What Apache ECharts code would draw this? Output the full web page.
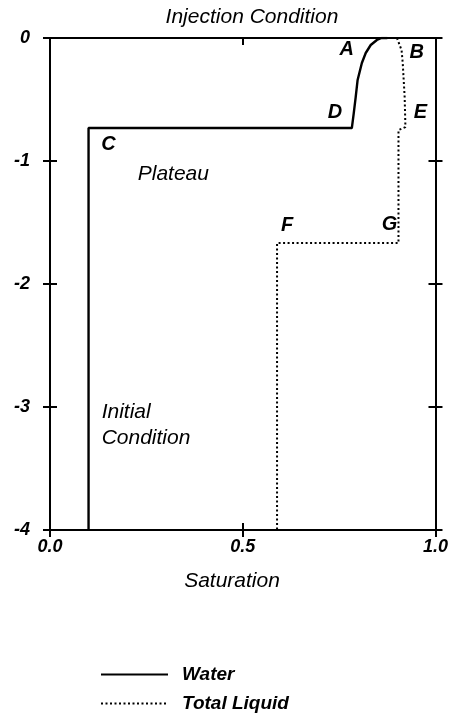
<!DOCTYPE html>
<html>
<head>
<meta charset="utf-8">
<script src="https://cdn.jsdelivr.net/npm/echarts@6/dist/echarts.min.js"></script>
<style>
html,body{margin:0;padding:0;background:#fff;}
#c{width:451px;height:715px;}
</style>
</head>
<body>
<div id="c"></div>
<script>
// ---- data ----
var waterSat   = [0.10, 0.10, 0.783, 0.788, 0.793, 0.798, 0.809, 0.819, 0.832, 0.848, 0.860, 0.875];
var waterDepth = [-4.0, -0.732, -0.732, -0.61, -0.48, -0.341, -0.203, -0.122, -0.057, -0.016, 0.0, 0.0];
var liquidSat   = [0.900, 0.912, 0.915, 0.920, 0.922, 0.904, 0.904, 0.589, 0.589];
var liquidDepth = [0.0, -0.098, -0.203, -0.48, -0.724, -0.748, -1.667, -1.667, -4.0];
var xTicks = [0.0, 0.5, 1.0];
var yTicks = [0, -1, -2, -3, -4];
var noteText = ['A', 'B', 'D', 'E', 'C', 'F', 'G', 'Plateau', 'Initial\nCondition'];
var noteSat  = [0.770, 0.951, 0.739, 0.961, 0.152, 0.615, 0.881, 0.320, 0.134];
var noteDepth = [-0.093, -0.114, -0.602, -0.602, -0.866, -1.528, -1.520, -1.106, -3.146];
var seriesNames = ['Water', 'Total Liquid'];

function pairs(xs, ys){ return xs.map(function(x,i){ return [x, ys[i]]; }); }

var FONT = '"Liberation Sans", Arial, sans-serif';
var INK = '#000';

var chart = echarts.init(document.getElementById('c'), null, {renderer:'canvas'});

function xAx(pos, inside, labels){
  return {
    type:'value', position:pos, min:xTicks[0], max:xTicks[xTicks.length-1], interval:0.5,
    axisLine:{show:true, onZero:false, lineStyle:{color:INK, width:2}},
    axisTick:{show: pos==='bottom' || inside, inside:inside, length:7, lineStyle:{color:INK, width:2},
      customValues: pos==='top' ? [0.5] : xTicks},
    axisLabel:{show:labels, margin:8, color:INK, fontFamily:FONT, fontSize:18, fontStyle:'italic', fontWeight:'bold',
      formatter:function(v){ return v.toFixed(1); }},
    splitLine:{show:false}
  };
}
function yAx(pos, inside, labels){
  return {
    type:'value', position:pos, min:yTicks[yTicks.length-1], max:yTicks[0], interval:1,
    axisLine:{show:true, onZero:false, lineStyle:{color:INK, width:2}},
    axisTick:{show:true, inside:inside, length:7, lineStyle:{color:INK, width:2}},
    axisLabel:{show:labels, margin:20, color:INK, fontFamily:FONT, fontSize:18, fontStyle:'italic', fontWeight:'bold',
      formatter:function(v){ return String(v); }},
    splitLine:{show:false}
  };
}

var notes = noteText.map(function(t,i){
  var item = {value:[noteSat[i], noteDepth[i]], name:t};
  if (t.length > 1) item.label = {fontWeight:'normal', fontSize:21};
  if (t.indexOf('\n') >= 0) item.label = {align:'left', fontWeight:'normal', fontSize:21};
  return item;
});

chart.setOption({
  animation:false,
  backgroundColor:'#fff',
  grid:{left:50, right:14, top:38, bottom:185, containLabel:false},
  xAxis:[xAx('bottom', false, true), xAx('bottom', true, false), xAx('top', true, false)],
  yAxis:[yAx('left', false, true), yAx('left', true, false), yAx('right', false, false), yAx('right', true, false)],
  legend:{
    data:seriesNames, orient:'vertical', left:100, top:665, height:60, padding:0,
    itemWidth:67, itemHeight:14, itemGap:10,
    selectedMode:false,
    itemStyle:{color:'rgba(0,0,0,0)', borderColor:'rgba(0,0,0,0)', borderWidth:0},
    textStyle:{color:INK, fontFamily:FONT, fontSize:19, fontStyle:'italic', fontWeight:'bold', padding:[0,0,0,9]}
  },
  graphic:[
    {type:'text', x:252, y:17, silent:true,
     style:{text:'Injection Condition', align:'center', verticalAlign:'middle', fill:INK,
            fontFamily:FONT, fontSize:21, fontStyle:'italic'}},
    {type:'text', x:232, y:581, silent:true,
     style:{text:'Saturation', align:'center', verticalAlign:'middle', fill:INK,
            fontFamily:FONT, fontSize:21, fontStyle:'italic'}}
  ],
  series:[
    {name:seriesNames[0], type:'line', data:pairs(waterSat, waterDepth), symbol:'none', silent:true,
     lineStyle:{color:INK, width:2.4}, itemStyle:{color:INK}},
    {name:seriesNames[1], type:'line', data:pairs(liquidSat, liquidDepth), symbol:'none', silent:true,
     lineStyle:{color:INK, width:2, type:[2,2.5]}, itemStyle:{color:INK}},
    {name:'notes', type:'scatter', data:notes, symbolSize:1, silent:true,
     itemStyle:{color:'rgba(0,0,0,0)', opacity:1},
     label:{show:true, position:'inside', formatter:'{b}', color:INK, fontFamily:FONT, fontSize:20,
            fontStyle:'italic', fontWeight:'bold', lineHeight:26}}
  ]
});
</script>
</body>
</html>
